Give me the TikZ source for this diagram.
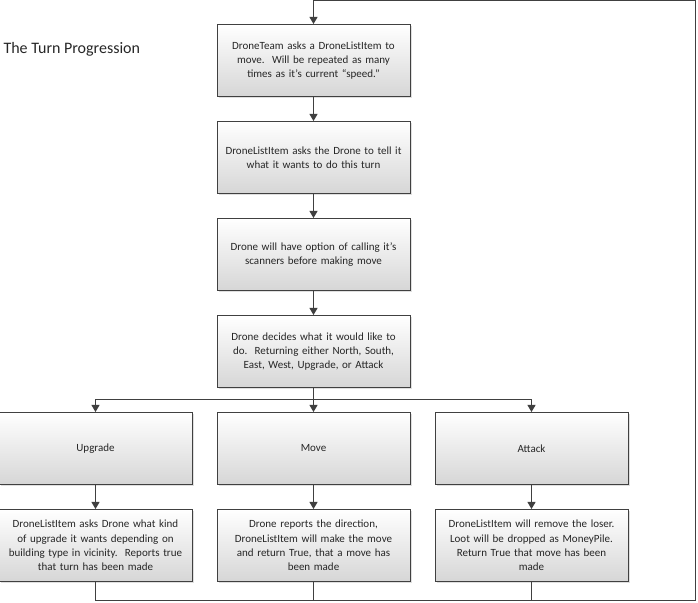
\documentclass[tikz,border=0pt]{standalone}
\usepackage{fontspec}
\setmainfont{Carlito}
\usetikzlibrary{positioning,arrows.meta,shadows}

\definecolor{linegray}{RGB}{64,64,64}
\definecolor{textgray}{RGB}{38,38,38}
\definecolor{boxbottom}{RGB}{214,214,214}

\tikzset{
  stepbox/.style={draw=linegray,line width=1pt,top color=white,bottom color=boxbottom,
    drop shadow={shadow xshift=1.5pt,shadow yshift=-1.5pt,fill=black!25},
    minimum width=193pt,minimum height=72pt,text width=185pt,inner xsep=4pt,
    align=center,text=textgray,font=\fontsize{11}{14.3}\selectfont},
  flow/.style={draw=linegray,line width=1pt,-{Triangle[width=8pt,length=7pt]}},
  plainline/.style={draw=linegray,line width=1pt}
}

\begin{document}
\begin{tikzpicture}[x=1pt,y=1pt,node distance=24pt]
\useasboundingbox (0,0) rectangle (698,602);

%Title
\node[anchor=west,text=textgray,font=\fontsize{16}{19}\selectfont] (title) at (0,553) {The Turn Progression};

%The main column
\node[stepbox] (team) at (313.5,541.5) {DroneTeam asks a DroneListItem to\\ move.\ \ Will be repeated as many\\ times as it’s current “speed.”};
\node[stepbox,below=of team] (ask) {DroneListItem asks the Drone to tell it\\ what it wants to do this turn};
\node[stepbox,below=of ask] (scan) {Drone will have option of calling it’s\\ scanners before making move};
\node[stepbox,below=of scan] (decide) {Drone decides what it would like to\\ do.\ \ Returning either North, South,\\ East, West, Upgrade, or Attack};

%The three choices
\node[stepbox,below=of decide] (move) {Move};
\node[stepbox,left=of move] (upgrade) {Upgrade};
\node[stepbox,right=of move] (attack) {Attack};

%What happens after each choice
\node[stepbox,below=of upgrade] (upgradedone) {DroneListItem asks Drone what kind\\ of upgrade it wants depending on\\ building type in vicinity.\ \ Reports true\\ that turn has been made};
\node[stepbox,below=of move] (movedone) {Drone reports the direction,\\ DroneListItem will make the move\\ and return True, that a move has\\ been made};
\node[stepbox,below=of attack] (attackdone) {DroneListItem will remove the loser.\\ Loot will be dropped as MoneyPile.\\ Return True that move has been\\ made};

%Corners of the loop back to the top
\coordinate (loopbottom) at (695.5,1.5);
\coordinate (looptop) at (695.5,601.5);

%Connectors down the column
\draw[flow] (team) -- (ask);
\draw[flow] (ask) -- (scan);
\draw[flow] (scan) -- (decide);
\draw[plainline] (decide.south) -- ++(0,-12) coordinate (split);
\foreach \c in {upgrade,move,attack} \draw[flow] (split) -| (\c.north);
\foreach \c/\d in {upgrade/upgradedone,move/movedone,attack/attackdone} \draw[flow] (\c) -- (\d);

%Back to the start
\foreach \d in {movedone,attackdone} \draw[plainline] (\d.south) -- (\d.south |- loopbottom);
\draw[flow] (upgradedone.south) |- (loopbottom) -- (looptop) -| (team.north);

\end{tikzpicture}
\end{document}
